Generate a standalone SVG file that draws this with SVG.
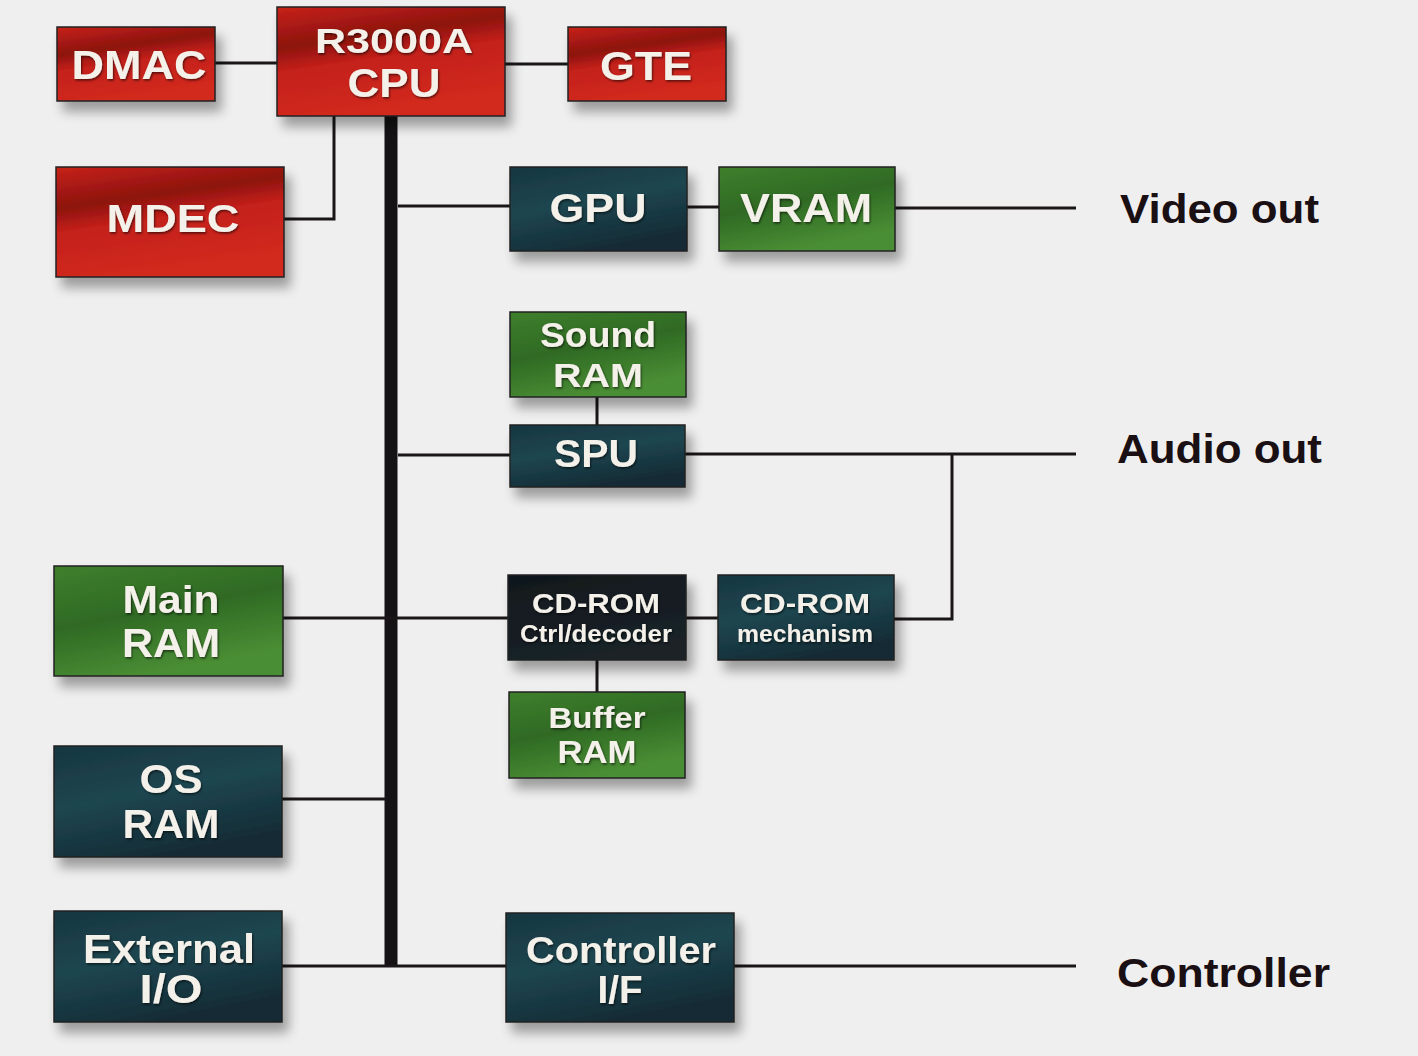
<svg xmlns="http://www.w3.org/2000/svg" width="1418" height="1056" viewBox="0 0 1418 1056">
<defs>
<filter id="sh" x="-20%" y="-20%" width="150%" height="160%">
<feGaussianBlur in="SourceAlpha" stdDeviation="6"/>
<feOffset dx="6" dy="10" result="b"/>
<feComponentTransfer in="b" result="c"><feFuncA type="linear" slope="0.35"/></feComponentTransfer>
<feMerge><feMergeNode in="c"/><feMergeNode in="SourceGraphic"/></feMerge>
</filter>
<filter id="ts" x="-10%" y="-20%" width="120%" height="150%">
<feDropShadow dx="1" dy="1.5" stdDeviation="0.8" flood-color="#000" flood-opacity="0.6"/>
</filter>
<linearGradient id="red" x1="0" y1="0" x2="0.3" y2="1">
<stop offset="0" stop-color="#c8221a"/>
<stop offset="0.35" stop-color="#8c120e"/>
<stop offset="0.55" stop-color="#c4201a"/>
<stop offset="1" stop-color="#d22a1e"/>
</linearGradient>
<linearGradient id="green" x1="0" y1="0" x2="0.4" y2="1">
<stop offset="0" stop-color="#3f7f2c"/>
<stop offset="0.5" stop-color="#2f6a24"/>
<stop offset="1" stop-color="#4a8e34"/>
</linearGradient>
<linearGradient id="teal" x1="0" y1="0" x2="0.4" y2="1">
<stop offset="0" stop-color="#163640"/>
<stop offset="0.5" stop-color="#1f4650"/>
<stop offset="1" stop-color="#122c36"/>
</linearGradient>
<linearGradient id="black" x1="0" y1="0" x2="0.4" y2="1">
<stop offset="0" stop-color="#10181c"/>
<stop offset="1" stop-color="#1a2228"/>
</linearGradient>
<style>
.n{stroke:#222;stroke-width:1.5;filter:url(#sh)}
.r{fill:url(#red)}
.g{fill:url(#green)}
.t{fill:url(#teal)}
.k{fill:url(#black)}
.w{fill:#f4f0ea;font-family:"Liberation Sans",Arial,sans-serif;font-weight:bold;text-anchor:middle;filter:url(#ts)}
.lbl{fill:#1a1014;font-family:"Liberation Sans",Arial,sans-serif;font-weight:bold;font-size:40px}
.c{stroke:#1a1618;stroke-width:3;fill:none}
.bus{stroke:#141214;stroke-width:13;fill:none}
</style>
</defs>
<rect width="1418" height="1056" fill="#efefef"/>

<g id="connectors">
<line class="bus" x1="391" y1="114" x2="391" y2="967"/>
<line class="c" x1="215" y1="63" x2="277" y2="63"/>
<line class="c" x1="505" y1="64" x2="568" y2="64"/>
<polyline class="c" points="284,219 334,219 334,116"/>
<line class="c" x1="398" y1="206" x2="510" y2="206"/>
<line class="c" x1="687" y1="207" x2="719" y2="207"/>
<line class="c" x1="895" y1="208" x2="1076" y2="208"/>
<line class="c" x1="597" y1="397" x2="597" y2="425"/>
<line class="c" x1="398" y1="455" x2="510" y2="455"/>
<line class="c" x1="685" y1="454" x2="1076" y2="454"/>
<polyline class="c" points="894,619 952,619 952,454"/>
<line class="c" x1="283" y1="618" x2="508" y2="618"/>
<line class="c" x1="686" y1="618" x2="718" y2="618"/>
<line class="c" x1="597" y1="660" x2="597" y2="692"/>
<line class="c" x1="282" y1="799" x2="386" y2="799"/>
<line class="c" x1="282" y1="966" x2="506" y2="966"/>
<line class="c" x1="734" y1="966" x2="1076" y2="966"/>
</g>

<g id="dmac"><rect class="n r" x="57" y="27" width="158" height="74"/>
<text class="w" x="139" y="79" font-size="40" textLength="135" lengthAdjust="spacingAndGlyphs">DMAC</text></g>

<g id="cpu"><rect class="n r" x="277" y="7" width="228" height="109"/>
<text class="w" x="394" y="53" font-size="35" textLength="158" lengthAdjust="spacingAndGlyphs">R3000A</text>
<text class="w" x="394" y="97" font-size="41" textLength="93" lengthAdjust="spacingAndGlyphs">CPU</text></g>

<g id="gte"><rect class="n r" x="568" y="27" width="158" height="74"/>
<text class="w" x="646" y="80" font-size="40" textLength="92" lengthAdjust="spacingAndGlyphs">GTE</text></g>

<g id="mdec"><rect class="n r" x="56" y="167" width="228" height="110"/>
<text class="w" x="173" y="232" font-size="38" textLength="133" lengthAdjust="spacingAndGlyphs">MDEC</text></g>

<g id="gpu"><rect class="n t" x="510" y="167" width="177" height="84"/>
<text class="w" x="598" y="222" font-size="40" textLength="97" lengthAdjust="spacingAndGlyphs">GPU</text></g>

<g id="vram"><rect class="n g" x="719" y="167" width="176" height="84"/>
<text class="w" x="806" y="222" font-size="40" textLength="132" lengthAdjust="spacingAndGlyphs">VRAM</text></g>

<g id="soundram"><rect class="n g" x="510" y="312" width="176" height="85"/>
<text class="w" x="598" y="347" font-size="35" textLength="116" lengthAdjust="spacingAndGlyphs">Sound</text>
<text class="w" x="598" y="387" font-size="34" textLength="90" lengthAdjust="spacingAndGlyphs">RAM</text></g>

<g id="spu"><rect class="n t" x="510" y="425" width="175" height="62"/>
<text class="w" x="596" y="467" font-size="38" textLength="84" lengthAdjust="spacingAndGlyphs">SPU</text></g>

<g id="mainram"><rect class="n g" x="54" y="566" width="229" height="110"/>
<text class="w" x="171" y="613" font-size="38" textLength="97" lengthAdjust="spacingAndGlyphs">Main</text>
<text class="w" x="171" y="657" font-size="40" textLength="98" lengthAdjust="spacingAndGlyphs">RAM</text></g>

<g id="cdctrl"><rect class="n k" x="508" y="575" width="178" height="85"/>
<text class="w" x="596" y="613" font-size="28" textLength="128" lengthAdjust="spacingAndGlyphs">CD-ROM</text>
<text class="w" x="596" y="642" font-size="23" textLength="152" lengthAdjust="spacingAndGlyphs">Ctrl/decoder</text></g>

<g id="cdmech"><rect class="n t" x="718" y="575" width="176" height="85"/>
<text class="w" x="805" y="613" font-size="28" textLength="130" lengthAdjust="spacingAndGlyphs">CD-ROM</text>
<text class="w" x="805" y="642" font-size="23" textLength="136" lengthAdjust="spacingAndGlyphs">mechanism</text></g>

<g id="bufferram"><rect class="n g" x="509" y="692" width="176" height="86"/>
<text class="w" x="597" y="728" font-size="30" textLength="97" lengthAdjust="spacingAndGlyphs">Buffer</text>
<text class="w" x="597" y="763" font-size="32" textLength="79" lengthAdjust="spacingAndGlyphs">RAM</text></g>

<g id="osram"><rect class="n t" x="54" y="746" width="228" height="111"/>
<text class="w" x="171" y="793" font-size="40" textLength="63" lengthAdjust="spacingAndGlyphs">OS</text>
<text class="w" x="171" y="838" font-size="40" textLength="97" lengthAdjust="spacingAndGlyphs">RAM</text></g>

<g id="extio"><rect class="n t" x="54" y="911" width="228" height="111"/>
<text class="w" x="169" y="963" font-size="40" textLength="172" lengthAdjust="spacingAndGlyphs">External</text>
<text class="w" x="171" y="1003" font-size="40" textLength="63" lengthAdjust="spacingAndGlyphs">I/O</text></g>

<g id="ctrlif"><rect class="n t" x="506" y="913" width="228" height="109"/>
<text class="w" x="621" y="963" font-size="36" textLength="190" lengthAdjust="spacingAndGlyphs">Controller</text>
<text class="w" x="620" y="1003" font-size="38" textLength="45" lengthAdjust="spacingAndGlyphs">I/F</text></g>

<g id="labels">
<text class="lbl" x="1120" y="223" textLength="199" lengthAdjust="spacingAndGlyphs">Video out</text>
<text class="lbl" x="1117" y="463" textLength="205" lengthAdjust="spacingAndGlyphs">Audio out</text>
<text class="lbl" x="1117" y="987" textLength="213" lengthAdjust="spacingAndGlyphs">Controller</text>
</g>
</svg>
